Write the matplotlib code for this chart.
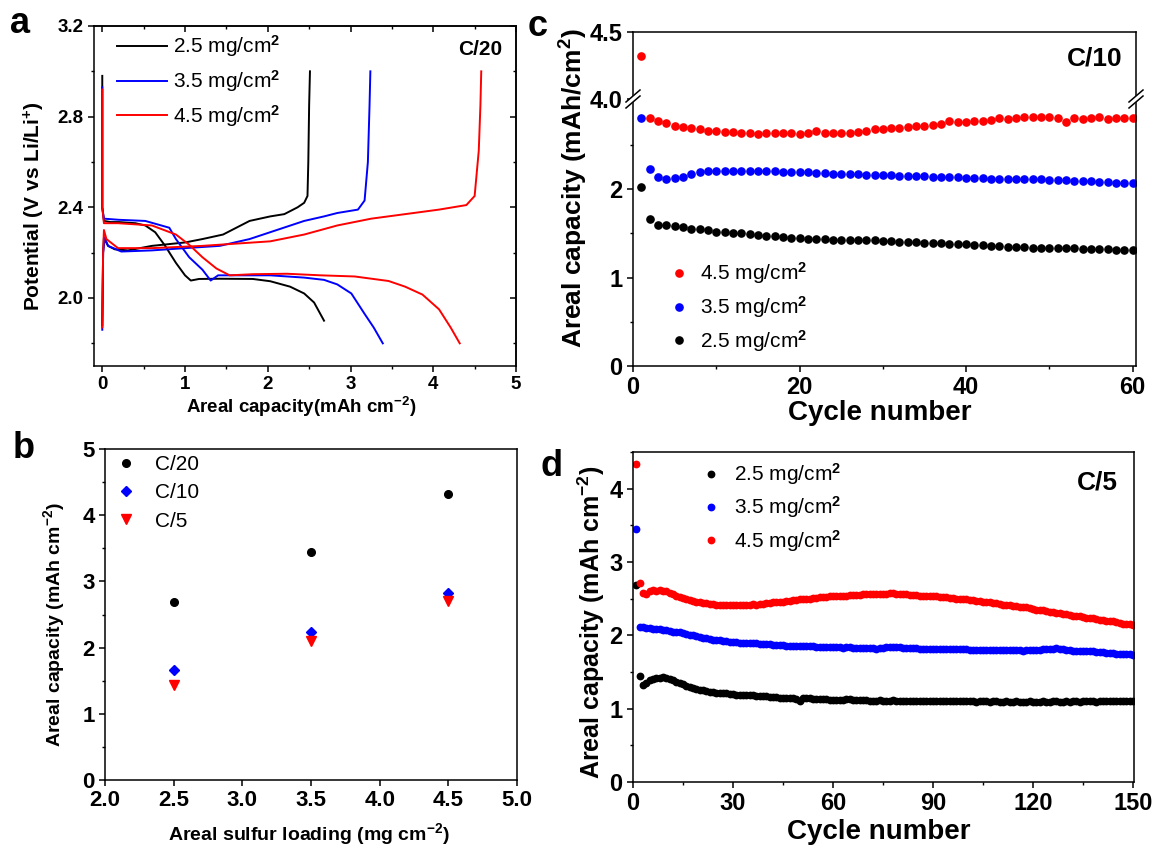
import matplotlib
matplotlib.use('Agg')
import matplotlib.pyplot as plt
import numpy as np
from matplotlib.ticker import MultipleLocator, FixedLocator
from matplotlib.lines import Line2D

plt.rcParams['font.family'] = ['Liberation Sans', 'DejaVu Sans']
plt.rcParams['font.weight'] = 'bold'
plt.rcParams['axes.labelweight'] = 'bold'
plt.rcParams['mathtext.fontset'] = 'custom'
plt.rcParams['mathtext.rm'] = 'Liberation Sans'
plt.rcParams['mathtext.bf'] = 'Liberation Sans:bold'
plt.rcParams['mathtext.it'] = 'Liberation Sans:italic'
plt.rcParams['axes.linewidth'] = 1.1

# ---------------- data: panel a (voltage profiles, C/20) ----------------
a_dis_25_x = [0.0, 0.0, 0.02, 0.1, 0.2, 0.4, 0.52, 0.64, 0.76, 0.89, 1.0, 1.07, 1.17, 1.41, 1.82, 2.03, 2.27, 2.44, 2.56, 2.68]
a_dis_25_v = [2.98, 2.40, 2.34, 2.335, 2.335, 2.33, 2.32, 2.29, 2.23, 2.155, 2.10, 2.077, 2.084, 2.085, 2.084, 2.074, 2.05, 2.02, 1.98, 1.90]
a_chg_25_x = [0.0, 0.01, 0.02, 0.07, 0.15, 0.31, 0.6, 1.0, 1.21, 1.46, 1.78, 2.03, 2.2, 2.36, 2.44, 2.48, 2.49, 2.50, 2.51]
a_chg_25_v = [1.88, 2.20, 2.265, 2.23, 2.215, 2.21, 2.23, 2.245, 2.26, 2.28, 2.34, 2.36, 2.37, 2.40, 2.42, 2.45, 2.60, 2.85, 3.0]

a_dis_35_x = [0.0, 0.0, 0.02, 0.2, 0.52, 0.81, 0.89, 1.05, 1.21, 1.31, 1.40, 1.62, 2.03, 2.44, 2.68, 2.84, 3.01, 3.17, 3.28, 3.39]
a_dis_35_v = [2.93, 2.40, 2.35, 2.345, 2.34, 2.31, 2.26, 2.18, 2.125, 2.077, 2.10, 2.10, 2.10, 2.09, 2.08, 2.06, 2.02, 1.93, 1.87, 1.80]
a_chg_35_x = [0.0, 0.01, 0.03, 0.07, 0.23, 0.6, 1.0, 1.42, 1.78, 2.11, 2.44, 2.68, 2.84, 3.09, 3.17, 3.21, 3.23, 3.24]
a_chg_35_v = [1.86, 2.20, 2.265, 2.23, 2.205, 2.21, 2.22, 2.23, 2.26, 2.30, 2.34, 2.36, 2.375, 2.39, 2.43, 2.60, 2.85, 3.0]

a_dis_45_x = [0.0, 0.0, 0.02, 0.19, 0.6, 0.89, 1.05, 1.21, 1.38, 1.54, 1.82, 2.23, 2.64, 3.05, 3.46, 3.66, 3.87, 4.07, 4.21, 4.32]
a_dis_45_v = [2.92, 2.40, 2.33, 2.33, 2.32, 2.28, 2.235, 2.18, 2.13, 2.10, 2.105, 2.107, 2.10, 2.095, 2.075, 2.05, 2.015, 1.95, 1.87, 1.80]
a_chg_45_x = [0.0, 0.01, 0.02, 0.05, 0.19, 0.6, 1.21, 1.62, 2.03, 2.44, 2.84, 3.25, 3.66, 4.07, 4.40, 4.50, 4.55, 4.57, 4.58]
a_chg_45_v = [1.87, 2.20, 2.30, 2.26, 2.22, 2.22, 2.23, 2.24, 2.25, 2.28, 2.32, 2.35, 2.37, 2.39, 2.41, 2.45, 2.65, 2.85, 3.0]

loading_labels = ['2.5 mg/cm$^2$', '3.5 mg/cm$^2$', '4.5 mg/cm$^2$']

# ---------------- data: panel b ----------------
b_loading = [2.5, 3.5, 4.5]
b_c20 = [2.69, 3.45, 4.32]
b_c10 = [1.66, 2.24, 2.82]
b_c5 = [1.44, 2.10, 2.71]
b_labels = ['C/20', 'C/10', 'C/5']

# ---------------- data: panel c (C/10, 60 cycles) ----------------
c_red_45 = [4.32, 2.81, 2.77, 2.75, 2.72, 2.70, 2.69, 2.68, 2.66, 2.66,
            2.65, 2.65, 2.64, 2.64, 2.62, 2.63, 2.63, 2.64, 2.63, 2.62,
            2.63, 2.66, 2.64, 2.64, 2.64, 2.64, 2.65, 2.66, 2.68, 2.68,
            2.69, 2.69, 2.70, 2.72, 2.72, 2.73, 2.74, 2.77, 2.76, 2.76,
            2.77, 2.77, 2.78, 2.81, 2.79, 2.80, 2.82, 2.82, 2.82, 2.82,
            2.81, 2.76, 2.80, 2.79, 2.80, 2.82, 2.79, 2.81, 2.81, 2.81]
c_blue_35 = [2.81, 2.23, 2.14, 2.12, 2.13, 2.14, 2.17, 2.19, 2.20, 2.20,
             2.21, 2.21, 2.20, 2.20, 2.20, 2.20, 2.20, 2.19, 2.19, 2.19,
             2.19, 2.18, 2.18, 2.17, 2.17, 2.17, 2.17, 2.16, 2.16, 2.16,
             2.16, 2.15, 2.15, 2.15, 2.15, 2.14, 2.14, 2.14, 2.14, 2.13,
             2.13, 2.13, 2.12, 2.12, 2.12, 2.12, 2.11, 2.11, 2.11, 2.10,
             2.10, 2.10, 2.09, 2.09, 2.09, 2.08, 2.08, 2.07, 2.07, 2.07]
c_black_25 = [2.03, 1.66, 1.60, 1.59, 1.58, 1.57, 1.55, 1.55, 1.54, 1.52,
              1.52, 1.50, 1.50, 1.49, 1.48, 1.47, 1.47, 1.46, 1.45, 1.45,
              1.44, 1.44, 1.44, 1.43, 1.43, 1.43, 1.42, 1.42, 1.42, 1.41,
              1.41, 1.40, 1.40, 1.40, 1.39, 1.39, 1.39, 1.38, 1.38, 1.38,
              1.37, 1.37, 1.36, 1.36, 1.35, 1.35, 1.35, 1.34, 1.34, 1.34,
              1.33, 1.33, 1.33, 1.32, 1.32, 1.32, 1.32, 1.31, 1.31, 1.31]

# ---------------- data: panel d (C/5, 150 cycles) ----------------
d_black_25 = [2.69, 1.45, 1.32, 1.35, 1.39, 1.41, 1.42, 1.42, 1.43, 1.42,
              1.41, 1.39, 1.37, 1.35, 1.33, 1.31, 1.30, 1.28, 1.27, 1.26,
              1.25, 1.24, 1.23, 1.23, 1.22, 1.22, 1.21, 1.21, 1.20, 1.20,
              1.19, 1.19, 1.19, 1.18, 1.18, 1.18, 1.17, 1.17, 1.17, 1.17,
              1.16, 1.16, 1.16, 1.15, 1.15, 1.15, 1.15, 1.14, 1.13, 1.11,
              1.14, 1.14, 1.14, 1.13, 1.13, 1.13, 1.13, 1.13, 1.12, 1.12,
              1.12, 1.12, 1.12, 1.13, 1.13, 1.12, 1.12, 1.12, 1.12, 1.12,
              1.11, 1.11, 1.11, 1.12, 1.11, 1.11, 1.11, 1.12, 1.11, 1.11,
              1.11, 1.11, 1.10, 1.11, 1.11, 1.11, 1.10, 1.11, 1.11, 1.10,
              1.10, 1.10, 1.11, 1.10, 1.10, 1.10, 1.10, 1.11, 1.10, 1.10,
              1.10, 1.10, 1.09, 1.10, 1.10, 1.10, 1.09, 1.10, 1.10, 1.09,
              1.09, 1.10, 1.09, 1.09, 1.10, 1.09, 1.09, 1.09, 1.10, 1.09,
              1.09, 1.09, 1.10, 1.09, 1.09, 1.10, 1.10, 1.09, 1.09, 1.10,
              1.09, 1.10, 1.10, 1.09, 1.10, 1.10, 1.10, 1.10, 1.09, 1.10,
              1.10, 1.10, 1.10, 1.10, 1.10, 1.10, 1.10, 1.10, 1.11, 1.11]
d_blue_35 = [3.45, 2.11, 2.11, 2.10, 2.10, 2.09, 2.09, 2.08, 2.07, 2.07,
             2.06, 2.05, 2.05, 2.04, 2.03, 2.02, 2.01, 2.00, 1.99, 1.98,
             1.97, 1.96, 1.95, 1.94, 1.93, 1.93, 1.92, 1.92, 1.91, 1.91,
             1.91, 1.90, 1.90, 1.90, 1.89, 1.89, 1.89, 1.88, 1.88, 1.88,
             1.88, 1.87, 1.87, 1.87, 1.87, 1.86, 1.86, 1.86, 1.86, 1.85,
             1.85, 1.85, 1.85, 1.85, 1.84, 1.84, 1.84, 1.84, 1.84, 1.84,
             1.84, 1.84, 1.83, 1.84, 1.84, 1.83, 1.83, 1.83, 1.83, 1.83,
             1.83, 1.83, 1.82, 1.83, 1.83, 1.84, 1.84, 1.84, 1.84, 1.84,
             1.83, 1.83, 1.83, 1.83, 1.83, 1.82, 1.82, 1.82, 1.82, 1.82,
             1.82, 1.82, 1.82, 1.81, 1.81, 1.81, 1.81, 1.81, 1.81, 1.81,
             1.80, 1.80, 1.80, 1.80, 1.80, 1.80, 1.80, 1.80, 1.80, 1.80,
             1.80, 1.80, 1.80, 1.80, 1.80, 1.80, 1.79, 1.80, 1.80, 1.80,
             1.80, 1.80, 1.81, 1.81, 1.82, 1.82, 1.83, 1.82, 1.81, 1.80,
             1.80, 1.79, 1.79, 1.79, 1.78, 1.78, 1.78, 1.78, 1.77, 1.77,
             1.77, 1.76, 1.76, 1.76, 1.75, 1.75, 1.75, 1.74, 1.74, 1.73]
d_red_45 = [4.33, 2.72, 2.58, 2.57, 2.60, 2.62, 2.61, 2.62, 2.61, 2.60,
            2.58, 2.56, 2.54, 2.52, 2.51, 2.49, 2.48, 2.47, 2.46, 2.45,
            2.44, 2.44, 2.43, 2.43, 2.42, 2.42, 2.41, 2.42, 2.41, 2.41,
            2.42, 2.41, 2.42, 2.42, 2.42, 2.43, 2.42, 2.43, 2.43, 2.44,
            2.44, 2.45, 2.45, 2.46, 2.46, 2.47, 2.47, 2.48, 2.48, 2.49,
            2.49, 2.50, 2.50, 2.51, 2.51, 2.52, 2.52, 2.52, 2.53, 2.53,
            2.53, 2.54, 2.54, 2.54, 2.55, 2.55, 2.55, 2.55, 2.56, 2.56,
            2.56, 2.56, 2.57, 2.56, 2.57, 2.57, 2.58, 2.58, 2.57, 2.56,
            2.56, 2.56, 2.55, 2.55, 2.55, 2.54, 2.54, 2.54, 2.53, 2.53,
            2.53, 2.52, 2.52, 2.52, 2.51, 2.51, 2.50, 2.50, 2.49, 2.49,
            2.48, 2.48, 2.47, 2.47, 2.46, 2.46, 2.45, 2.44, 2.44, 2.43,
            2.42, 2.42, 2.41, 2.40, 2.40, 2.39, 2.38, 2.38, 2.37, 2.36,
            2.35, 2.35, 2.34, 2.33, 2.32, 2.32, 2.31, 2.30, 2.29, 2.29,
            2.28, 2.27, 2.27, 2.26, 2.25, 2.24, 2.24, 2.23, 2.22, 2.21,
            2.21, 2.20, 2.19, 2.19, 2.18, 2.17, 2.16, 2.16, 2.15, 2.14]

RED = '#ff0000'
BLUE = '#0000ff'
BLACK = '#000000'

W, H = 1162, 851
fig = plt.figure(figsize=(W / 100, H / 100), dpi=100)


def box(l, t, r, b):
    """axes rectangle from pixel edges (left, top, right, bottom)"""
    return [l / W, 1 - b / H, (r - l) / W, (b - t) / H]


def style(ax, size):
    ax.tick_params(axis='both', which='major', direction='out', length=4.5, width=1.1,
                   labelsize=size, pad=3)
    ax.tick_params(axis='both', which='minor', direction='out', length=2.5, width=1.0)
    for lab in ax.get_xticklabels() + ax.get_yticklabels():
        lab.set_fontweight('bold')


# ================= panel a =================
ax_a = fig.add_axes(box(94, 26, 516, 366))
a_sets = [(a_dis_25_x, a_dis_25_v, a_chg_25_x, a_chg_25_v, BLACK),
          (a_dis_35_x, a_dis_35_v, a_chg_35_x, a_chg_35_v, BLUE),
          (a_dis_45_x, a_dis_45_v, a_chg_45_x, a_chg_45_v, RED)]
for (dx, dv, cx, cv, col), lab in zip(a_sets, loading_labels):
    ax_a.plot(dx, dv, color=col, lw=1.4, label=lab)
    ax_a.plot(cx, cv, color=col, lw=1.4)
ax_a.set_xlim(-0.1, 5.0)
ax_a.set_ylim(1.7, 3.2)
ax_a.xaxis.set_major_locator(MultipleLocator(1))
ax_a.xaxis.set_minor_locator(MultipleLocator(0.5))
ax_a.yaxis.set_major_locator(FixedLocator([2.0, 2.4, 2.8, 3.2]))
ax_a.yaxis.set_minor_locator(FixedLocator([1.8, 2.2, 2.6, 3.0]))
ax_a.set_yticklabels(['2.0', '2.4', '2.8', '3.2'])
style(ax_a, 13.5)
sec_top = ax_a.secondary_xaxis('top')
sec_top.xaxis.set_major_locator(MultipleLocator(1))
sec_top.xaxis.set_minor_locator(MultipleLocator(0.5))
sec_top.tick_params(which='major', direction='in', length=4.5, width=1.1, labeltop=False)
sec_top.tick_params(which='minor', direction='in', length=2.5, width=1.0)
sec_r = ax_a.secondary_yaxis('right')
sec_r.yaxis.set_major_locator(FixedLocator([2.0, 2.4, 2.8, 3.2]))
sec_r.yaxis.set_minor_locator(FixedLocator([1.8, 2.2, 2.6, 3.0]))
sec_r.tick_params(which='major', direction='in', length=4.5, width=1.1, labelright=False)
sec_r.tick_params(which='minor', direction='in', length=2.5, width=1.0)
ax_a.set_xlabel('Areal capacity(mAh cm$^{\\mathbf{-2}}$)', fontsize=13.5)
ax_a.xaxis.set_label_coords(0.49, -0.085)
ax_a.set_ylabel('Potential (V vs Li/Li$^{\\mathbf{+}}$)', fontsize=15)
ax_a.yaxis.set_label_coords(-0.112, 0.47)
ax_a.legend(loc='upper left', bbox_to_anchor=(0.055, 0.978), frameon=False,
            handlelength=2.4, handletextpad=0.3, labelspacing=0.42,
            borderaxespad=0, borderpad=0, prop={'weight': 'normal', 'size': 15})
ax_a.text(0.967, 0.93, 'C/20', transform=ax_a.transAxes, ha='right', va='center',
          fontsize=15, fontweight='bold')

# ================= panel b =================
ax_b = fig.add_axes(box(105, 449, 517, 780))
ax_b.plot(b_loading, b_c20, 'o', color=BLACK, ms=5.5, label=b_labels[0], ls='none')
ax_b.plot(b_loading, b_c10, 'D', color=BLUE, ms=5.5, label=b_labels[1], ls='none')
ax_b.plot(b_loading, b_c5, 'v', color=RED, ms=6.5, label=b_labels[2], ls='none')
ax_b.set_xlim(2.0, 5.0)
ax_b.set_ylim(0, 5)
ax_b.xaxis.set_major_locator(MultipleLocator(0.5))
ax_b.xaxis.set_major_formatter(matplotlib.ticker.FormatStrFormatter('%.1f'))
ax_b.yaxis.set_major_locator(MultipleLocator(1))
ax_b.yaxis.set_minor_locator(MultipleLocator(0.5))
style(ax_b, 16)
ax_b.set_xlabel('Areal sulfur loading (mg cm$^{\\mathbf{-2}}$)', fontsize=14)
ax_b.xaxis.set_label_coords(0.495, -0.125)
ax_b.set_ylabel('Areal capacity (mAh cm$^{\\mathbf{-2}}$)', fontsize=14)
ax_b.yaxis.set_label_coords(-0.092, 0.47)
ax_b.legend(loc='upper left', bbox_to_anchor=(0.03, 0.982), frameon=False,
            handlelength=0.8, handletextpad=1.0, labelspacing=0.45,
            borderaxespad=0, borderpad=0, prop={'weight': 'normal', 'size': 15})

# ================= panel c (broken y axis) =================
ax_ct = fig.add_axes(box(633, 32, 1136, 99))
ax_cb = fig.add_axes(box(633, 99, 1136, 366))
cyc_c = np.arange(1, len(c_red_45) + 1)
for axx in (ax_ct, ax_cb):
    axx.plot(cyc_c, c_black_25, 'o', color=BLACK, ms=5.2, ls='none', label='2.5 mg/cm$^2$')
    axx.plot(cyc_c, c_blue_35, 'o', color=BLUE, ms=5.2, ls='none', label='3.5 mg/cm$^2$')
    axx.plot(cyc_c, c_red_45, 'o', color=RED, ms=5.2, ls='none', label='4.5 mg/cm$^2$')
    axx.set_xlim(0, 60.4)
ax_ct.set_ylim(4.0, 4.5)
ax_cb.set_ylim(0, 3.02)
ax_ct.spines['bottom'].set_visible(False)
ax_cb.spines['top'].set_visible(False)
ax_ct.tick_params(axis='x', which='both', bottom=False, labelbottom=False)
ax_ct.yaxis.set_major_locator(FixedLocator([4.0, 4.5]))
ax_ct.set_yticklabels(['4.0', '4.5'])
ax_cb.xaxis.set_major_locator(MultipleLocator(20))
ax_cb.xaxis.set_minor_locator(MultipleLocator(10))
ax_cb.yaxis.set_major_locator(FixedLocator([0, 1, 2]))
ax_cb.yaxis.set_minor_locator(FixedLocator([0.5, 1.5, 2.5]))
style(ax_ct, 17)
style(ax_cb, 17)
ax_cb.set_xlabel('Cycle number', fontsize=20)
ax_cb.xaxis.set_label_coords(0.49, -0.128)
ax_cb.set_ylabel('Areal capacity (mAh/cm$^{\\mathbf{2}}$)', fontsize=19)
ax_cb.yaxis.set_label_coords(-0.086, 0.665)
h, l = ax_cb.get_legend_handles_labels()
ax_cb.legend(h[::-1], l[::-1], loc='lower left', bbox_to_anchor=(0.075, 0.045), frameon=False,
             handlelength=0.8, handletextpad=0.6, labelspacing=0.38,
             borderaxespad=0, borderpad=0, prop={'weight': 'normal', 'size': 15})
fig.text(1123 / W, 1 - 58 / H, 'C/10', ha='right', va='center', fontsize=19, fontweight='bold')

# break marks
for x0 in (633, 1136):
    fig.add_artist(Line2D([(x0 - 5) / W, (x0 + 5) / W], [1 - 104 / H, 1 - 94 / H],
                          transform=fig.transFigure, color='white', lw=3.5, zorder=10))
    for off in (-3, 3):
        fig.add_artist(Line2D([(x0 - 7) / W, (x0 + 7) / W],
                              [1 - (99 + off + 6) / H, 1 - (99 + off - 6) / H],
                              transform=fig.transFigure, color='black', lw=1.1, zorder=11))

# ================= panel d =================
ax_d = fig.add_axes(box(633, 452, 1134, 782))
cyc_d = np.arange(1, len(d_red_45) + 1)
ax_d.plot(cyc_d, d_black_25, 'o', color=BLACK, ms=4.6, ls='none', label='2.5 mg/cm$^2$')
ax_d.plot(cyc_d, d_blue_35, 'o', color=BLUE, ms=4.6, ls='none', label='3.5 mg/cm$^2$')
ax_d.plot(cyc_d, d_red_45, 'o', color=RED, ms=4.6, ls='none', label='4.5 mg/cm$^2$')
ax_d.set_xlim(0, 150.3)
ax_d.set_ylim(0, 4.5)
ax_d.xaxis.set_major_locator(MultipleLocator(30))
ax_d.xaxis.set_minor_locator(MultipleLocator(15))
ax_d.yaxis.set_major_locator(MultipleLocator(1))
ax_d.yaxis.set_minor_locator(MultipleLocator(0.5))
style(ax_d, 17)
ax_d.set_xlabel('Cycle number', fontsize=20)
ax_d.xaxis.set_label_coords(0.49, -0.112)
ax_d.set_ylabel('Areal capacity (mAh cm$^{\\mathbf{-2}}$)', fontsize=18)
ax_d.yaxis.set_label_coords(-0.052, 0.485)
ax_d.legend(loc='upper left', bbox_to_anchor=(0.14, 0.972), frameon=False,
            handlelength=0.8, handletextpad=0.7, labelspacing=0.35,
            borderaxespad=0, borderpad=0, prop={'weight': 'normal', 'size': 15})
fig.text(1118 / W, 1 - 482 / H, 'C/5', ha='right', va='center', fontsize=19, fontweight='bold')

# panel letters
fig.text(20 / W, 1 - 33 / H, 'a', ha='center', va='baseline', fontsize=26, fontweight='bold')
fig.text(24 / W, 1 - 458 / H, 'b', ha='center', va='baseline', fontsize=26, fontweight='bold')
fig.text(538 / W, 1 - 36 / H, 'c', ha='center', va='baseline', fontsize=26, fontweight='bold')
fig.text(552 / W, 1 - 476 / H, 'd', ha='center', va='baseline', fontsize=26, fontweight='bold')

fig.savefig('out.png', dpi=100)
